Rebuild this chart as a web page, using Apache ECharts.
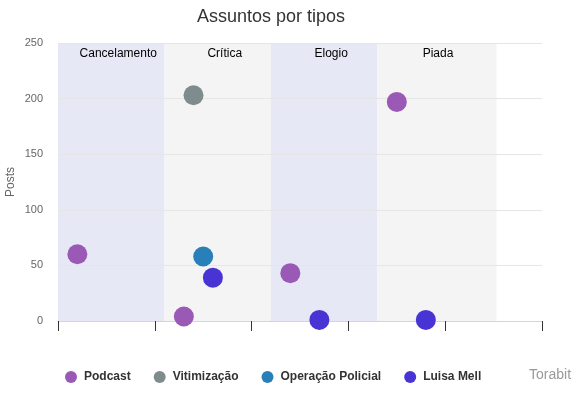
<!DOCTYPE html>
<html>
<head>
<meta charset="utf-8">
<script src="https://cdn.jsdelivr.net/npm/echarts@6/dist/echarts.min.js"></script>
<style>
  html, body { margin: 0; padding: 0; background: #fff; }
  #chart { width: 578px; height: 396px; }
</style>
</head>
<body>
<div id="chart"></div>
<script>
// categories shown as plot bands along the x axis
const categories = ['Cancelamento', 'Crítica', 'Elogio', 'Piada']
const bandEdges = [0, 1.1, 2.2, 3.3, 4.53]
const bandColors = ['#e6e9f5', '#f4f4f4', '#e6e9f5', '#f4f4f4']

// series: values per category (null = no point) and x offset inside the band
const seriesNames = ['Podcast', 'Vitimização', 'Operação Policial', 'Luisa Mell']
const seriesColors = ['#9b59b6', '#7f8c8d', '#2980b9', '#4834d4']
const seriesOffsets = [0.2, 0.3, 0.4, 0.5]
const podcast = [60, 4, 43, 197]
const vitimizacao = [null, 203, null, null]
const operacaoPolicial = [null, 58, null, null]
const luisaMell = [null, 39, 1, 1]
const seriesValues = [podcast, vitimizacao, operacaoPolicial, luisaMell]

const chart = echarts.init(document.getElementById('chart'))

const bandData = categories.map((name, i) => [
  {
    xAxis: bandEdges[i],
    name: name,
    itemStyle: { color: bandColors[i] },
    label: { offset: [i === 3 ? 1 : 7, 0] }
  },
  { xAxis: bandEdges[i + 1] }
])

const series = seriesNames.map((name, s) => {
  const data = []
  seriesValues[s].forEach((v, i) => {
    if (v !== null) data.push([bandEdges[i] + seriesOffsets[s], v])
  })
  return {
    name: name,
    type: 'scatter',
    symbolSize: 20,
    itemStyle: { color: seriesColors[s], opacity: 1 },
    data: data,
    z: 3
  }
})

// plot bands live on the first series
series[0].markArea = {
  silent: true,
  z: 1,
  label: {
    show: true,
    position: 'insideTop',
    distance: 5,
    color: '#000',
    fontSize: 12,
    fontFamily: 'Liberation Sans, Arial, sans-serif'
  },
  data: bandData
}

chart.setOption({
  animation: false,
  textStyle: { fontFamily: 'Liberation Sans, Arial, sans-serif' },
  title: [{
    text: 'Assuntos por tipos',
    left: 192,
    top: 3,
    textStyle: { fontSize: 18, fontWeight: 'normal', color: '#333' }
  }, {
    text: 'Torabit',
    left: 524,
    top: 363,
    textStyle: { fontSize: 14, fontWeight: 'normal', color: '#999' }
  }],
  legend: {
    left: 60,
    top: 366,
    icon: 'circle',
    itemWidth: 16,
    itemHeight: 12,
    itemGap: 23,
    textStyle: { fontSize: 12, fontWeight: 'bold', color: '#333' },
    data: seriesNames
  },
  grid: {
    left: 58,
    right: 36,
    top: 43,
    bottom: 75,
    outerBoundsMode: 'none'
  },
  xAxis: {
    type: 'value',
    min: 0,
    max: 5,
    interval: 1,
    z: 2,
    axisLine: { show: true, onZero: false, lineStyle: { color: '#ccd6eb' } },
    axisTick: { show: true, length: 10, lineStyle: { color: '#333' } },
    axisLabel: { show: false },
    splitLine: { show: false }
  },
  yAxis: {
    type: 'value',
    min: 0,
    max: 250,
    interval: 50,
    z: 2,
    name: 'Posts',
    nameLocation: 'middle',
    nameGap: 41,
    nameMoveOverlap: false,
    nameTextStyle: { color: '#666', fontSize: 12 },
    axisLine: { show: false },
    axisTick: { show: false },
    axisLabel: { color: '#666', fontSize: 11, margin: 15 },
    splitLine: { lineStyle: { color: '#e6e6e6' } }
  },
  series: series
})
</script>
</body>
</html>
